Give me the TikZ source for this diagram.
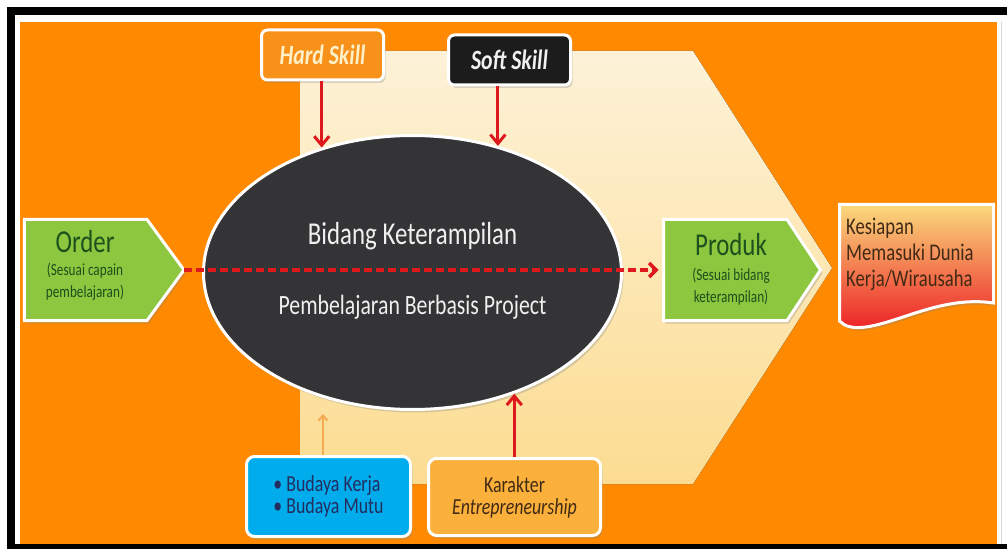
\documentclass[tikz,border=0pt]{standalone}
\usepackage{fontspec}
\setmainfont[FakeStretch=0.78]{Carlito}
\usetikzlibrary{shapes.geometric,arrows.meta,calc,shadows}

\definecolor{bgorange}{RGB}{255,137,0}
\definecolor{creamtop}{RGB}{253,242,216}
\definecolor{creambot}{RGB}{252,220,145}
\definecolor{ovaldark}{RGB}{52,52,54}
\definecolor{skillorange}{RGB}{247,145,25}
\definecolor{skillblack}{RGB}{28,28,28}
\definecolor{skilltext}{RGB}{255,240,200}
\definecolor{leafgreen}{RGB}{141,198,63}
\definecolor{deepgreen}{RGB}{28,80,28}
\definecolor{skyblue}{RGB}{0,172,236}
\definecolor{navytext}{RGB}{35,45,95}
\definecolor{paleorange}{RGB}{251,176,59}
\definecolor{browntext}{RGB}{65,42,20}
\definecolor{arrowred}{RGB}{222,25,30}
\definecolor{arrowtan}{RGB}{245,172,80}
\definecolor{kestop}{RGB}{250,218,125}
\definecolor{kesmid}{RGB}{248,150,50}
\definecolor{kesbot}{RGB}{236,30,36}
\definecolor{edgegrey}{RGB}{215,215,215}

\tikzset{
  softshadow/.style={drop shadow={opacity=0.3,shadow xshift=2bp,shadow yshift=-3bp}},
  skillbox/.style={rounded corners=6bp, draw=white, line width=3bp, softshadow,
    minimum width=122bp, minimum height=50bp,
    font=\fontsize{28}{30}\selectfont\bfseries\itshape},
  basebox/.style={rounded corners=8bp, draw=white, line width=3bp, softshadow,
    inner sep=0pt, font=\fontsize{23}{22}\selectfont},
  bodybox/.style={inner sep=0pt, outer sep=0pt, minimum height=101bp},
  greenbox/.style={fill=leafgreen, draw=white, line width=3bp, softshadow},
  greentext/.style={text=deepgreen, align=center, inner sep=0pt,
    font=\fontsize{17}{22}\selectfont},
  coretext/.style={text=white!94!black, inner sep=0pt},
  redline/.style={draw=arrowred, line width=3bp, -{Straight Barb[length=9bp,width=15bp]}},
  tanline/.style={draw=arrowtan, line width=2bp, -{Straight Barb[length=5bp,width=9bp]}},
  dashline/.style={draw=arrowred, line width=3.5bp, dash pattern=on 8bp off 4bp,
    -{Straight Barb[length=7bp,width=14bp]}, shorten >=5bp}
}

\begin{document}
\begin{tikzpicture}[x=1bp,y=-1bp]
    \useasboundingbox (0,0) rectangle (1007,549);
    \fill[white] (0,0) rectangle (1007,549);
    \fill[black] (7,7) rectangle (1007,15);
    \fill[black] (7,7) rectangle (15,549);
    \fill[black] (7,544) rectangle (1007,549);
    \fill[bgorange] (20,22) rectangle (997,544);
    \fill[top color=creamtop, bottom color=creambot]
      (300,51) -- (693,51) -- (832,268) -- (693,484) -- (300,484) -- cycle;

    \node[ellipse, fill=ovaldark, draw=white, line width=3bp, softshadow,
      minimum width=418bp, minimum height=274bp] (core) at (412.5,272.5) {};
    \node[coretext, font=\fontsize{32}{34}\selectfont] (corea) at (412.5,236) {Bidang Keterampilan};
    \node[coretext, font=\fontsize{28}{30}\selectfont] (coreb) at (412.5,307) {Pembelajaran Berbasis Project};

    \node[skillbox, fill=skillorange, text=skilltext] (hard) at (322.5,55) {Hard Skill};
    \node[skillbox, fill=skillblack, text=white!94!black] (soft) at (509.5,60) {Soft Skill};

    \node[bodybox, minimum width=122.5bp] (ord) at (85.75,270) {};
    \coordinate (ordtip) at ($(ord.east)+(37,0)$);
    \draw[greenbox] (ord.north west) -- (ord.north east) -- (ordtip)
      -- (ord.south east) -- (ord.south west) -- cycle;
    \node[greentext] (ordlbl) at (85,265)
      {{\fontsize{32}{30}\selectfont Order}\\[1pt] (Sesuai capain\\ pembelajaran)};

    \node[bodybox, minimum width=123.5bp] (prod) at (725.25,270) {};
    \coordinate (prodtip) at ($(prod.east)+(33.5,0)$);
    \draw[greenbox] (prod.north west) -- (prod.north east) -- (prodtip)
      -- (prod.south east) -- (prod.south west) -- cycle;
    \node[greentext] (prodlbl) at (731,269)
      {{\fontsize{32}{30}\selectfont Produk}\\[3pt] (Sesuai bidang\\ keterampilan)};

    \draw[draw=white, line width=3bp, softshadow, top color=kestop, middle color=kesmid, bottom color=kesbot]
      (839.5,204.5) -- (993.5,204.5) -- (993.5,303)
      .. controls (960,298) and (930,308) .. (900,318)
      .. controls (870,328) and (850,332) .. (839.5,321) -- cycle;
    \node[text=browntext, align=left, inner sep=0pt, anchor=west,
      font=\fontsize{24}{26}\selectfont] (kes) at (846,254) {Kesiapan\\Memasuki Dunia\\Kerja/Wirausaha};

    \node[basebox, fill=skyblue, text=navytext, align=left,
      minimum width=164bp, minimum height=80bp] (cul) at (328.5,496.5) {• Budaya Kerja\\• Budaya Mutu};
    \node[basebox, fill=paleorange, text=browntext, align=center,
      minimum width=172bp, minimum height=77bp] (kar) at (514.5,497) {Karakter\\\textit{Entrepreneurship}};

    \coordinate (cultip) at (323,414);
    \path
    (core.126 |- hard.south) edge[redline] (core.126)
    (core.56 |- soft.south) edge[redline] (core.56)
    (core.-50 |- kar.north) edge[redline] (core.-50)
    (cultip |- cul.north) edge[tanline] (cultip)
    (ordtip) edge[dashline] (prod.west);

    \fill[white] (997,15) rectangle (1007,544);
    \draw[edgegrey, line width=1bp] (1001,22) -- (1001,544);
    \end{tikzpicture}
\end{document}
